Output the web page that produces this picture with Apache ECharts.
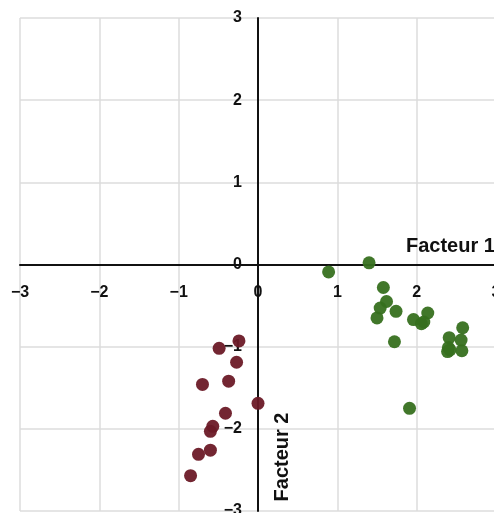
<!DOCTYPE html>
<html>
<head>
<meta charset="utf-8">
<script src="https://cdn.jsdelivr.net/npm/echarts@6/dist/echarts.min.js"></script>
<style>html,body{margin:0;padding:0;background:#fff;}#c{width:494px;height:513px;}</style>
</head>
<body>
<div id="c"></div>
<script>
var xTicks = [-3, -2, -1, 0, 1, 2, 3];
var yTicks = [-3, -2, -1, 0, 1, 2, 3];
var greenGroup = [
  [0.89, -0.09], [1.40, 0.02], [1.58, -0.28], [1.62, -0.45], [1.54, -0.53],
  [1.50, -0.65], [1.74, -0.57], [2.14, -0.59], [1.96, -0.67], [2.06, -0.72],
  [2.09, -0.70], [1.72, -0.94], [2.58, -0.77], [2.41, -0.89], [2.56, -0.92],
  [2.40, -1.01], [2.39, -1.06], [2.57, -1.05], [2.42, -1.04], [1.91, -1.75]
];
var redGroup = [
  [-0.24, -0.93], [-0.49, -1.02], [-0.27, -1.19], [-0.70, -1.46], [-0.37, -1.42],
  [0.00, -1.69], [-0.41, -1.81], [-0.57, -1.97], [-0.60, -2.03], [-0.60, -2.26],
  [-0.75, -2.31], [-0.85, -2.57]
];
var xName = 'Facteur 1';
var yName = 'Facteur 2';

var fmt = function (v) { return String(v).replace('-', '\u2212'); };
var labelStyle = { color: '#111', fontWeight: 'bold', fontSize: 16, fontFamily: 'Liberation Sans, Arial, sans-serif' };

var chart = echarts.init(document.getElementById('c'), null, { renderer: 'canvas' });
chart.setOption({
  animation: false,
  grid: { left: 20, right: -2, top: 18, bottom: 2, containLabel: false, outerBoundsMode: 'none' },
  xAxis: {
    type: 'value', min: xTicks[0], max: xTicks[xTicks.length - 1], interval: 1,
    position: 'bottom', offset: -246.5,
    axisLine: { onZero: false, lineStyle: { color: '#111', width: 2 } },
    axisTick: { show: false },
    axisLabel: Object.assign({ margin: 20, formatter: fmt, showMinLabel: true, showMaxLabel: true }, labelStyle),
    splitLine: { show: true, lineStyle: { color: '#dcdcdc', width: 1.5 } }
  },
  yAxis: {
    type: 'value', min: yTicks[0], max: yTicks[yTicks.length - 1], interval: 1,
    position: 'left', offset: -238,
    axisLine: { onZero: false, lineStyle: { color: '#111', width: 2 } },
    axisTick: { show: false },
    axisLabel: Object.assign({ margin: 16, formatter: fmt, showMinLabel: true, showMaxLabel: true }, labelStyle),
    splitLine: { show: true, lineStyle: { color: '#dcdcdc', width: 1.5 } }
  },
  graphic: [
    { type: 'text', left: 406, top: 236, z: 10,
      style: { text: xName, fill: '#111', font: 'bold 20px "Liberation Sans", Arial, sans-serif' } },
    { type: 'text', x: 282, y: 457, rotation: Math.PI / 2, z: 10,
      style: { text: yName, fill: '#111', align: 'center', verticalAlign: 'middle', font: 'bold 20px "Liberation Sans", Arial, sans-serif' } }
  ],
  series: [
    { type: 'scatter', data: greenGroup, symbolSize: 13, itemStyle: { color: '#37701f', opacity: 0.95 } },
    { type: 'scatter', data: redGroup, symbolSize: 13, itemStyle: { color: '#6b1a27', opacity: 0.95 } }
  ]
});
</script>
</body>
</html>
